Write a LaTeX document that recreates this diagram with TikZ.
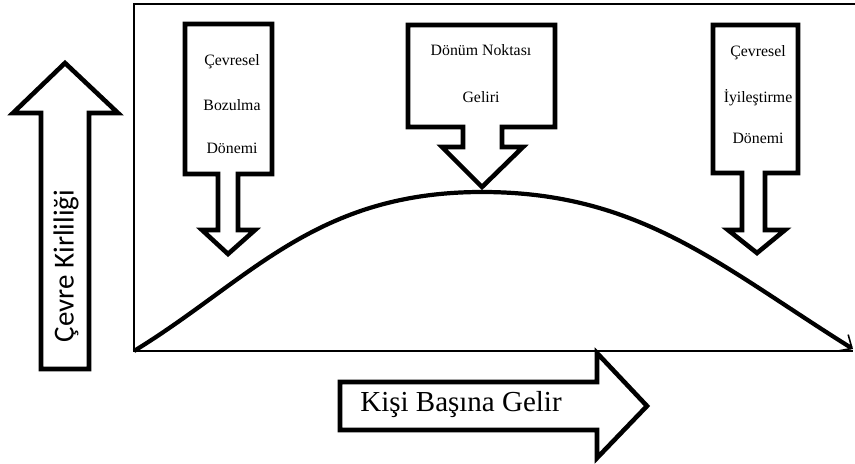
\documentclass[tikz,border=0pt]{standalone}
\usepackage{fontspec}
\setmainfont{Liberation Serif}
\newfontfamily\calibrifont{Carlito}
\usetikzlibrary{arrows.meta}
\tikzset{%
  % Specifications for style of shapes:
  base/.style = {
    draw=black,
    fill=white,
    line width=2.6pt,
    line join=miter
  },
  callout/.style={base},
  bigarrow/.style={base},
  axis/.style={draw=black, line width=1.6pt},
  curve/.style={draw=black, line width=2.4pt},
  label/.style={inner sep=0pt, font=\fontsize{9}{10}\selectfont},
  biglabel/.style={inner sep=0pt, font=\fontsize{16.5}{18}\selectfont},
}

\begin{document}
\begin{tikzpicture}[x=0.02cm, y=-0.02cm]
  \useasboundingbox (0,0) rectangle (855,463);
  % frame
  \coordinate (top_left)  at (134,4);
  \coordinate (top_right) at (855,4);
  \coordinate (origin)    at (134,351);
  \coordinate (x_end)     at (853,351);
  \coordinate (peak)      at (482,192);
  \draw[axis] (top_right) -- (top_left) -- (origin) -- (x_end);
  % curve
  \draw[curve, -{Straight Barb[length=6pt, width=11pt, line width=0.9pt]}]
    (origin) .. controls (250,280) and (315,192) .. (peak)
             .. controls (640,192) and (720,266) .. (853,349);
  % big arrows
  \draw[bigarrow] (41,369) -- (41,113) -- (13,113) -- (65,63)
    -- (118,113) -- (89,113) -- (89,369) -- cycle;
  \node (pollution) [biglabel, rotate=90, font=\calibrifont\fontsize{16.5}{18}\selectfont]
    at (66,266) {Çevre Kirliliği};
  \draw[bigarrow] (340,382) -- (597,382) -- (597,353) -- (647,406)
    -- (597,458) -- (597,430) -- (340,430) -- cycle;
  \node (income) [biglabel] at (461,405) {Kişi Başına Gelir};
  % callouts
  \draw[callout] (185,24) -- (272,24) -- (272,174) -- (238,174) -- (238,230)
    -- (255,230) -- (228,254) -- (202,230) -- (218,230) -- (218,174)
    -- (185,174) -- cycle;
  \node (bozulma_1) [label] at (232,62)  {Çevresel};
  \node (bozulma_2) [label] at (232,105) {Bozulma};
  \node (bozulma_3) [label] at (232,148) {Dönemi};
  \draw[callout] (408,25) -- (555,25) -- (555,127) -- (502,127) -- (502,147)
    -- (523,147) -- (482,187) -- (442,147) -- (463,147) -- (463,127)
    -- (408,127) -- cycle;
  \node (donum_1) [label] at (481,50) {Dönüm Noktası};
  \node (donum_2) [label] at (481,97) {Geliri};
  \draw[callout] (713,25) -- (798,25) -- (798,173) -- (765,173) -- (765,230)
    -- (785,230) -- (757,253) -- (728,230) -- (742,230) -- (742,173)
    -- (713,173) -- cycle;
  \node (iyi_1) [label] at (758,53)  {Çevresel};
  \node (iyi_2) [label] at (758,98)  {İyileştirme};
  \node (iyi_3) [label] at (758,138) {Dönemi};
\end{tikzpicture}
\end{document}
